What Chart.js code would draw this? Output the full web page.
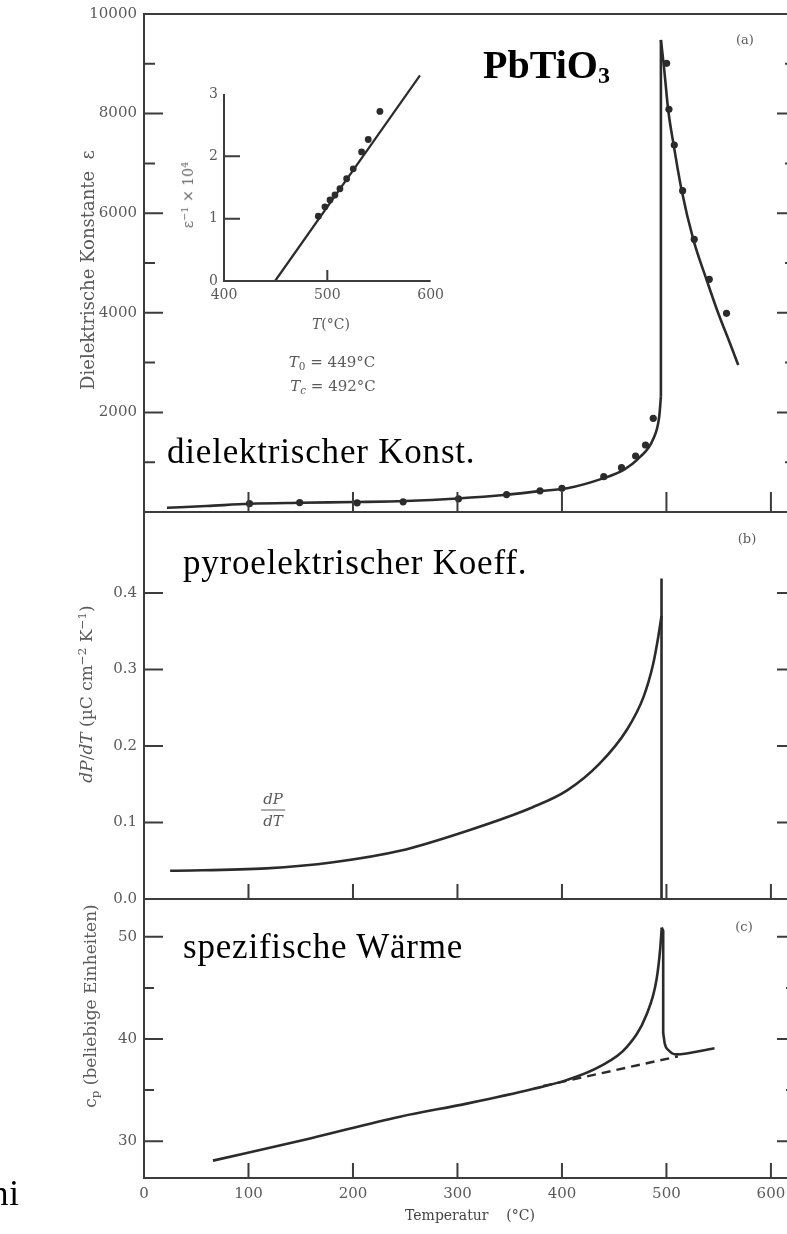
<!DOCTYPE html>
<html>
<head>
<meta charset="utf-8">
<script src="https://cdn.jsdelivr.net/npm/chart.js@4.4.1/dist/chart.umd.min.js"></script>
<style>
  html, body { margin: 0; padding: 0; background: #fff; }
  body { width: 787px; height: 1234px; overflow: hidden; position: relative; }
  canvas { position: absolute; }
  .big { position: absolute; font-family: 'Liberation Serif', serif; color: #000; font-size: 35px;
         line-height: 1; white-space: nowrap; letter-spacing: 0.8px; }
  .lbl { position: absolute; font-family: 'DejaVu Serif', serif; color: #5a5a5a; white-space: nowrap; line-height: 1; }
  .rot { transform: translate(-50%, -50%) rotate(-90deg); }
  .ctr { transform: translate(-50%, -50%); }
  .lbl sub { font-size: 0.7em; vertical-align: -0.3em; line-height: 0; }
  .lbl sup { font-size: 0.7em; vertical-align: 0.5em; line-height: 0; }
</style>
</head>
<body>

<canvas id="panelA" width="800" height="534" style="left:0;top:-4px"></canvas>
<canvas id="panelB" width="800" height="426" style="left:0;top:494px"></canvas>
<canvas id="panelC" width="800" height="353" style="left:0;top:881px"></canvas>
<canvas id="inset" width="300" height="280" style="left:150px;top:60px"></canvas>

<div class="big" style="left:483px;top:44.5px;font-size:40px;font-weight:bold;letter-spacing:0">PbTiO<span style="font-size:24px;position:relative;top:5px">3</span></div>
<div class="big" style="left:167px;top:433.7px">dielektrischer Konst.</div>
<div class="big" style="left:183px;top:544.7px">pyroelektrischer Koeff.</div>
<div class="big" style="left:183px;top:928.7px">spezifische Wärme</div>
<div class="big" style="left:-9px;top:1175.7px">ni</div>

<div class="lbl rot" style="left:88px;top:270px;font-size:18px">Dielektrische Konstante&nbsp; ε</div>
<div class="lbl rot" style="left:86px;top:694px;font-size:17px"><i>dP</i>/<i>dT</i> (µC cm<sup>−2</sup> K<sup>−1</sup>)</div>
<div class="lbl rot" style="left:90px;top:1006px;font-size:17px">c<sub>p</sub> (beliebige Einheiten)</div>
<div class="lbl rot" style="left:188px;top:195px;font-size:14px;color:#666">ε<sup>−1</sup> × 10<sup>4</sup></div>

<div class="lbl ctr" style="left:331px;top:324px;font-size:14px"><i>T</i>(°C)</div>
<div class="lbl ctr" style="left:332px;top:362px;font-size:15px"><i>T</i><sub>0</sub> = 449°C</div>
<div class="lbl ctr" style="left:333px;top:386px;font-size:15px"><i>T<sub>c</sub></i> = 492°C</div>

<div class="lbl ctr" style="left:745px;top:39px;font-size:13px">(a)</div>
<div class="lbl ctr" style="left:747px;top:538px;font-size:13px">(b)</div>
<div class="lbl ctr" style="left:744px;top:926px;font-size:13px">(c)</div>

<div class="lbl ctr" style="left:273px;top:810px;font-size:15px;text-align:center">
  <div style="border-bottom:1.5px solid #5a5a5a;padding:0 2px 3px"><i>dP</i></div>
  <div style="padding-top:3px"><i>dT</i></div>
</div>

<script>
// Temperaturachse (°C)
const tempTicks = [0, 100, 200, 300, 400, 500, 600];

// (a) Dielektrizitätskonstante: unterer Ast, Sprung, oberer Ast
const epsLowT   = [22, 60, 101, 150, 203, 250, 300, 347, 379, 405, 440, 459, 475, 487, 493.1, 494.7];
const epsLowVal = [85, 120, 165, 185, 200, 220, 270, 345, 420, 476, 680, 845, 1110, 1450, 1914, 2316];
const epsSpikeT   = [494.7, 494.7];
const epsSpikeVal = [2316, 9480];
const epsHighT   = [494.7, 497.6, 501.7, 507.2, 514.5, 525.7, 538.5, 549.6, 560.8, 568.7];
const epsHighVal = [9480, 8942, 8072, 7336, 6466, 5476, 4659, 3990, 3388, 2952];
const epsDotT   = [101, 149, 204, 248, 301, 347, 379, 400, 440, 457, 470.5, 480, 487.4,
                   500.2, 502.4, 507.5, 515.5, 526.6, 541, 557.5];
const epsDotVal = [170, 190, 185, 205, 265, 350, 425, 475, 709, 890, 1124, 1345, 1881,
                   9010, 8086, 7369, 6452, 5476, 4673, 3990];

// Inset: 1/eps x 10^4
const invDotT   = [491.3, 497.7, 502.6, 507.4, 512.2, 518.7, 525.1, 533.2, 539.6, 550.9, 565.5];
const invDotVal = [1.04, 1.19, 1.30, 1.38, 1.48, 1.64, 1.80, 2.07, 2.27, 2.72, 3.20];
const invFitT   = [449.4, 589.7];
const invFitVal = [0, 3.30];

// (b) pyroelektrischer Koeffizient dP/dT
const pyroT   = [25, 117, 181, 245, 309, 372, 405, 436, 462, 478, 487.4, 492.2, 495.3];
const pyroVal = [0.037, 0.040, 0.048, 0.063, 0.089, 0.120, 0.142, 0.177, 0.221, 0.264, 0.308, 0.343, 0.37];
const pyroSpikeT   = [495.3, 495.3];
const pyroSpikeVal = [0, 0.419];

// (c) spezifische Wärme
const heatT   = [66, 160, 245, 310, 372, 405, 436, 462, 481, 490.5, 494, 495.5];
const heatVal = [28.1, 30.3, 32.4, 33.7, 35.1, 36.0, 37.3, 39.2, 42.4, 45.8, 48.8, 50.9];
const heatDropT   = [495.5, 496.9, 496.9];
const heatDropVal = [50.9, 50.6, 40.6];
const heatHighT   = [496.9, 498.5, 502, 509, 546];
const heatHighVal = [40.6, 39.5, 38.9, 38.5, 39.1];
const heatDashT   = [382, 511];
const heatDashVal = [35.4, 38.3];

const INK = '#2b2b2b';
const FRAME = '#3c3c3c';

Chart.defaults.font.family = "'DejaVu Serif', serif";
Chart.defaults.font.size = 15;
Chart.defaults.color = '#5a5a5a';

const pts = (xs, ys) => xs.map((x, i) => ({ x: x, y: ys[i] }));

const curve = (xs, ys, smooth = true) => ({
    data: pts(xs, ys), showLine: true, borderColor: INK, borderWidth: 2.6,
    pointRadius: 0, cubicInterpolationMode: smooth ? 'monotone' : 'default', tension: 0
});
const dots = (xs, ys, r = 3.6) => ({
    data: pts(xs, ys), showLine: false, pointRadius: r, pointBackgroundColor: INK,
    pointBorderWidth: 0, clip: false
});

// Rahmen und nach innen zeigende Teilstriche
const frameTicks = {
    id: 'frameTicks',
    afterDatasetsDraw(chart, args, o) {
        if (!o || !o.on) return;
        const { ctx, chartArea: a } = chart;
        const y = chart.scales.y;
        const x = chart.scales.x;
        ctx.save();
        ctx.strokeStyle = FRAME;
        ctx.lineWidth = o.width || 2;
        ctx.beginPath();
        if (o.box) {
            ctx.rect(a.left, a.top, a.right - a.left, a.bottom - a.top);
        } else {
            ctx.moveTo(a.left, a.top);
            ctx.lineTo(a.left, a.bottom);
            ctx.lineTo(a.right, a.bottom);
        }
        y.ticks.forEach(t => {
            if (t.label === null || t.label === undefined) return;
            const py = y.getPixelForValue(t.value);
            if (py <= a.top + 1 || py >= a.bottom - 1) return;
            const len = t.label === '' ? o.yMinor : o.yMajor;
            ctx.moveTo(a.left, py);
            ctx.lineTo(a.left + len, py);
            if (o.box) {
                ctx.moveTo(a.right, py);
                ctx.lineTo(a.right - len, py);
            }
        });
        o.xValues.forEach(v => {
            const px = x.getPixelForValue(v);
            if (px <= a.left + 1 || px >= a.right - 1) return;
            ctx.moveTo(px, a.bottom);
            ctx.lineTo(px, a.bottom - o.xLen);
        });
        ctx.stroke();
        ctx.restore();
    }
};
Chart.register(frameTicks);

const fixWidth = w => (scale) => { scale.width = w; };
const fixHeight = h => (scale) => { scale.height = h; };

function baseOptions(padTop, padBottom, padRight) {
    return {
        responsive: false,
        animation: false,
        events: [],
        layout: { padding: { top: padTop, bottom: padBottom, left: 0, right: padRight } },
        plugins: { legend: { display: false }, tooltip: { enabled: false } }
    };
}

function hiddenTempAxis() {
    return { type: 'linear', min: 0, max: 624, display: false };
}

// (a)  Zeichenfläche 14..512 px
const optA = baseOptions(18, 18, 4);
optA.plugins.frameTicks = { on: true, box: true, yMajor: 19, yMinor: 11, xLen: 20, xValues: tempTicks };
optA.scales = {
    x: hiddenTempAxis(),
    y: {
        min: 0, max: 10000, afterFit: fixWidth(144),
        grid: { display: false, drawTicks: false }, border: { display: false },
        ticks: { stepSize: 1000, includeBounds: false, padding: 7,
                 callback: v => (v > 0 && v % 2000 === 0) ? String(v) : '' }
    }
};
new Chart(document.getElementById('panelA'), {
    type: 'scatter',
    data: { datasets: [
        curve(epsLowT, epsLowVal),
        curve(epsSpikeT, epsSpikeVal, false),
        curve(epsHighT, epsHighVal),
        dots(epsDotT, epsDotVal)
    ] },
    options: optA
});

// Inset
const optI = baseOptions(34, 0, 19.3);
optI.plugins.frameTicks = { on: true, box: false, yMajor: 16, yMinor: 16, xLen: 11, xValues: [500, 600] };
optI.scales = {
    x: {
        type: 'linear', min: 400, max: 600, afterFit: fixHeight(59),
        grid: { display: false, drawTicks: false }, border: { display: false },
        ticks: { stepSize: 100, padding: 6, font: { size: 14 } }
    },
    y: {
        min: 0, max: 3, afterFit: fixWidth(74),
        grid: { display: false, drawTicks: false }, border: { display: false },
        ticks: { stepSize: 1, padding: 6, font: { size: 14 } }
    }
};
new Chart(document.getElementById('inset'), {
    type: 'scatter',
    data: { datasets: [
        Object.assign(curve(invFitT, invFitVal, false), { clip: false, borderWidth: 2.2 }),
        dots(invDotT, invDotVal, 3.4)
    ] },
    options: optI
});

// (b)  Zeichenfläche 512..899 px
const optB = baseOptions(18, 21, 4);
optB.plugins.frameTicks = { on: true, box: true, yMajor: 19, yMinor: 11, xLen: 15, xValues: tempTicks };
optB.scales = {
    x: hiddenTempAxis(),
    y: {
        min: 0, max: 0.506, afterFit: fixWidth(144),
        grid: { display: false, drawTicks: false }, border: { display: false },
        ticks: { stepSize: 0.1, includeBounds: false, padding: 7,
                 callback: v => v > 0.45 ? null : v.toFixed(1) }
    }
};
new Chart(document.getElementById('panelB'), {
    type: 'scatter',
    data: { datasets: [
        curve(pyroT, pyroVal),
        curve(pyroSpikeT, pyroSpikeVal, false)
    ] },
    options: optB
});

// (c)  Zeichenfläche 899..1178 px
const optC = baseOptions(18, 0, 4);
optC.plugins.frameTicks = { on: true, box: true, yMajor: 19, yMinor: 10, xLen: 15, xValues: tempTicks };
optC.scales = {
    x: {
        type: 'linear', min: 0, max: 624, afterFit: fixHeight(56),
        grid: { display: false, drawTicks: false }, border: { display: false },
        ticks: { stepSize: 100, includeBounds: false, padding: 7 },
        title: { display: true, text: 'Temperatur    (°C)', color: '#444',
                 font: { size: 14 }, padding: { top: 4, bottom: 9 } }
    },
    y: {
        min: 26.4, max: 53.7, afterFit: fixWidth(144),
        grid: { display: false, drawTicks: false }, border: { display: false },
        ticks: { stepSize: 5, includeBounds: false, padding: 7,
                 callback: v => (Math.round(v) % 10 === 0) ? String(Math.round(v)) : '' }
    }
};
new Chart(document.getElementById('panelC'), {
    type: 'scatter',
    data: { datasets: [
        curve(heatT, heatVal),
        curve(heatDropT, heatDropVal, false),
        curve(heatHighT, heatHighVal),
        Object.assign(curve(heatDashT, heatDashVal, false), { borderDash: [9, 6], borderWidth: 2.4 })
    ] },
    options: optC
});
</script>
</body>
</html>
